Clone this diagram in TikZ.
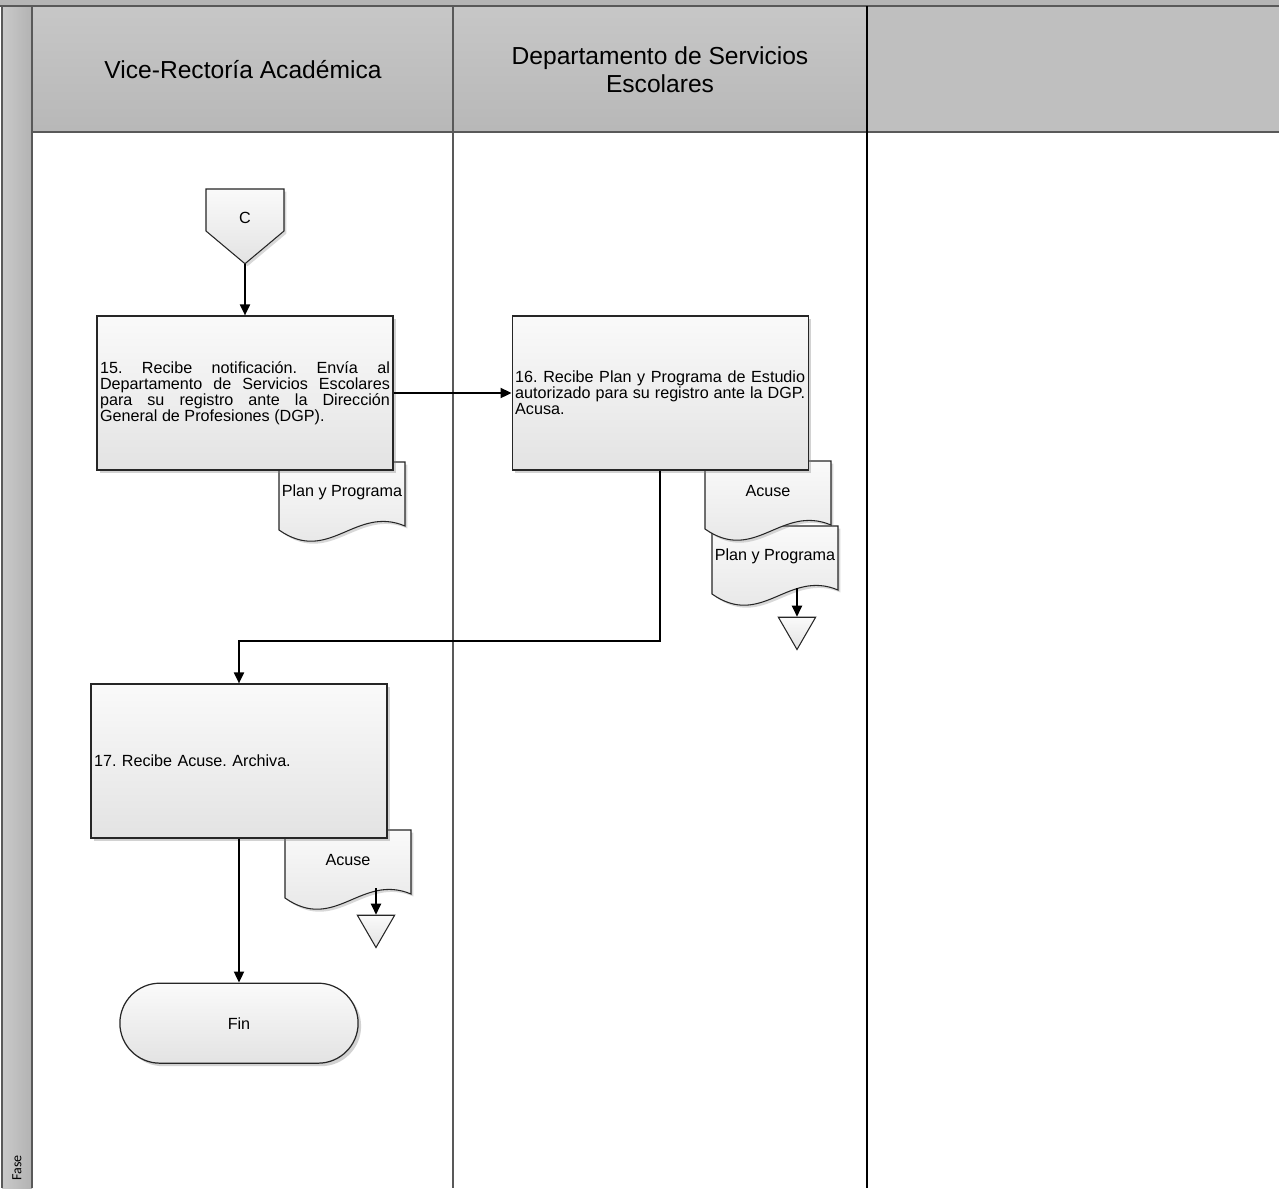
\documentclass[tikz,border=0pt]{standalone}
\usepackage{fontspec}
\setmainfont{Liberation Sans}
\newfontfamily\calibri{Carlito}
\usetikzlibrary{shapes.geometric, shapes.symbols, shapes.misc, arrows.meta, positioning, shadows}
\pgfdeclarelayer{lanes}
\pgfdeclarelayer{docs}
\pgfsetlayers{lanes,docs,main}

\newcommand{\flowfont}{\fontsize{9.2}{9.1}\selectfont\hyphenpenalty=10000\relax}

% wavy document outline round the text node #1
\newcommand{\docshape}[1]{%
  \path[docfill] ([shift={(-1.26cm,0.6cm)}]#1.center) -- ([shift={(-1.26cm,-0.76cm)}]#1.center)
    .. controls ([shift={(-0.26cm,-1.46cm)}]#1.center) and ([shift={(0.26cm,-0.26cm)}]#1.center) .. ([shift={(1.26cm,-0.68cm)}]#1.center)
    -- ([shift={(1.26cm,0.6cm)}]#1.center) -- cycle;}

\begin{document}
\frenchspacing
\begin{tikzpicture}[x=0.02cm, y=-0.02cm, every node/.style={font=\flowfont}]
    % Styles
    \tikzstyle{lane} = [draw=black!65, line width=0.9pt]
    \tikzstyle{header} = [font=\fontsize{14}{16}\selectfont, align=center]
    \tikzstyle{activity} = [rectangle, draw=black!85, line width=0.7pt, top color=gray!4, bottom color=gray!22, drop shadow={shadow xshift=0.06cm, shadow yshift=-0.06cm, opacity=0.35}, minimum width=5.92cm, minimum height=3.08cm, text width=5.8cm, align=justify, inner sep=0.05cm]
    \tikzstyle{docfill} = [draw=black!85, line width=0.6pt, top color=gray!4, bottom color=gray!22, drop shadow={shadow xshift=0.05cm, shadow yshift=-0.05cm, opacity=0.3}]
    \tikzstyle{offpage} = [signal, signal to=south, signal pointer angle=100, draw=black!85, line width=0.6pt, top color=gray!4, bottom color=gray!22, drop shadow={shadow xshift=0.05cm, shadow yshift=-0.05cm, opacity=0.3}, minimum width=1.56cm, minimum height=0.84cm, inner sep=0]
    \tikzstyle{store} = [regular polygon, regular polygon sides=3, shape border rotate=180, draw=black!85, line width=0.6pt, top color=gray!4, bottom color=gray!22, minimum size=0.86cm, inner sep=0]
    \tikzstyle{terminal} = [rounded rectangle, draw=black!85, line width=0.7pt, top color=gray!4, bottom color=gray!22, drop shadow={shadow xshift=0.06cm, shadow yshift=-0.06cm, opacity=0.35}, minimum width=5cm, minimum height=1.6cm]
    \tikzstyle{flow} = [->, >={Triangle[length=0.22cm, width=0.2cm]}, line width=1.1pt, black]

    \useasboundingbox (0,0) rectangle (1279,1188);

    % Lanes
    \begin{pgfonlayer}{lanes}
        \fill[gray!58] (0,0) rectangle (1279,6);
        \fill[white] (32,132) rectangle (1279,1188);
        \shade[top color=gray!44, bottom color=gray!56] (32,6) rectangle (867,132);
        \fill[gray!50] (867,6) rectangle (1279,132);
        \shade[left color=gray!42, right color=gray!60] (2,6) rectangle (32,1188);
        \draw[lane] (0,6) -- (1279,6);
        \draw[lane] (2,6) -- (2,1188);
        \draw[lane] (32,6) -- (32,1188);
        \draw[lane] (32,132) -- (1279,132);
        \draw[lane] (453,6) -- (453,1188);
        \draw[lane, draw=black] (867,6) -- (867,1188);
    \end{pgfonlayer}

    % Nodes
    \node[header] (hdrVRA) at (243,70) {Vice-Rectoría Académica};
    \node[header] (hdrDSE) at (660,70) {Departamento de Servicios\\Escolares};
    \node[rotate=90, font=\calibri\fontsize{8}{9}\selectfont] (fase) at (17,1168) {Fase};

    \node[activity] (box15) at (245,393) {15. Recibe notificación. Envía al Departamento de Servicios Escolares para su registro ante la Dirección General de Profesiones (DGP).};
    \node[activity, right=2.36cm of box15] (box16) {16. Recibe Plan y Programa de Estudio autorizado para su registro ante la DGP. Acusa.};
    \node[activity, align=left] (box17) at (239,761) {17. Recibe Acuse. Archiva.};
    \node[offpage, above=1.02cm of box15, label={[name=connCtext, yshift=-0.16cm]center:C}] (connC) {};
    \node[terminal, below=2.88cm of box17] (fin) {Fin};

    \node (doc1) at (342,492) {Plan y Programa};
    \node (doc2) at (768,491) {Acuse};
    \node (doc3) at (775,556) {Plan y Programa};
    \node (doc4) at (348,860) {Acuse};
    \begin{pgfonlayer}{docs}
        \docshape{doc1}
        \docshape{doc3}
        \docshape{doc2}
        \docshape{doc4}
    \end{pgfonlayer}

    \node[store] (tri1) at (797,628) {};
    \node[store] (tri2) at (376,926) {};
    \coordinate (d3out) at (797,588);
    \coordinate (d4out) at (376,888);

    % Connections
    \draw[flow] (connC.south) -- (box15.north);
    \draw[flow] (box15.east) -- (box16.west);
    \draw[flow] (box16.south) -- ++(0,170) -| (box17.north);
    \draw[flow] (box17.south) -- (fin.north);
    \draw[flow] (d3out) -- (tri1.north);
    \draw[flow] (d4out) -- (tri2.north);
\end{tikzpicture}
\end{document}
